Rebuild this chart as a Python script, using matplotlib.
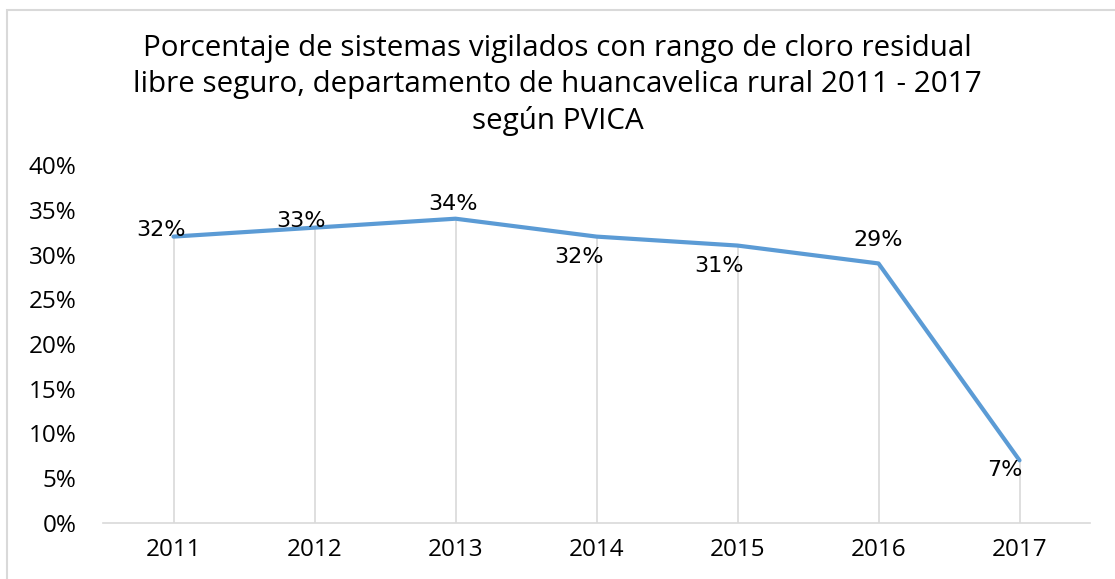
import matplotlib.pyplot as plt
from matplotlib.patches import Rectangle

# datos
years = ['2011', '2012', '2013', '2014', '2015', '2016', '2017']
pct = [0.32, 0.33, 0.34, 0.32, 0.31, 0.29, 0.07]
labels = ['32%', '33%', '34%', '32%', '31%', '29%', '7%']
# desplazamiento de cada etiqueta (píxeles)
label_offsets_px = [(-13, 7), (-13, 7), (-3, 15), (-18, -20), (-19, -20), (0, 23), (-15, -10)]
yticks = [0, 0.05, 0.10, 0.15, 0.20, 0.25, 0.30, 0.35, 0.40]
ytick_labels = ['0%', '5%', '10%', '15%', '20%', '25%', '30%', '35%', '40%']

title = ('Porcentaje de sistemas vigilados con rango de cloro residual\n'
         'libre seguro, departamento de huancavelica rural 2011 - 2017\n'
         'según PVICA')

fig = plt.figure(figsize=(11.15, 5.79), dpi=100)
ax = fig.add_axes([103 / 1115, 1 - 523 / 579, (1090 - 103) / 1115, (523 - 165) / 579])

x = list(range(len(years)))

# líneas de caída desde cada punto hasta el eje
ax.vlines(x, 0, pct, color='#D9D9D9', linewidth=1.2, zorder=1)
ax.plot(x, pct, color='#5B9BD5', linewidth=3.0, solid_capstyle='round', zorder=3)

for xi, yi, lab, off in zip(x, pct, labels, label_offsets_px):
    ax.annotate(lab, (xi, yi), xytext=(off[0] * 0.72, off[1] * 0.72),
                textcoords='offset points', ha='center', va='center',
                fontsize=16, family='DejaVu Sans', color='black')

ax.set_xlim(-0.5, len(years) - 0.5)
ax.set_ylim(0, 0.40)
ax.set_xticks(x)
ax.set_xticklabels(years, fontsize=17.5, family='Open Sans')
ax.set_yticks(yticks)
ax.set_yticklabels(ytick_labels, fontsize=17.5, family='Open Sans')
ax.tick_params(axis='both', length=0, colors='black')
ax.tick_params(axis='y', pad=19)
ax.tick_params(axis='x', pad=11)

for s in ['top', 'right', 'left']:
    ax.spines[s].set_visible(False)
ax.spines['bottom'].set_color('#D9D9D9')
ax.spines['bottom'].set_linewidth(1.2)

fig.text(0.5, 1 - 85 / 579, title, ha='center', va='center', fontsize=21.3,
         family='Open Sans', linespacing=1.3, color='black')

# borde del área del gráfico
fig.patches.append(Rectangle((7 / 1115, -0.1), 1.2, 1 - 10 / 579 + 0.1,
                             transform=fig.transFigure, fill=False,
                             edgecolor='#D9D9D9', linewidth=1.5))

fig.savefig('out.png', dpi=100)
